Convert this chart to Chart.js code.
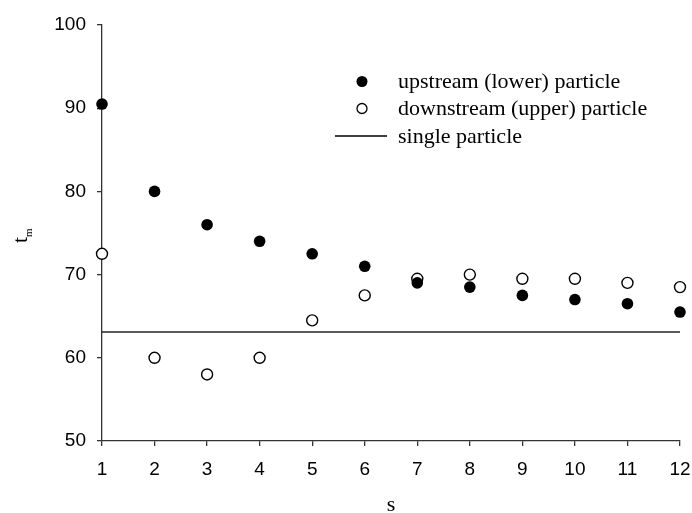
<!DOCTYPE html>
<html>
<head>
<meta charset="utf-8">
<script src="https://cdn.jsdelivr.net/npm/chart.js@4"></script>
<style>
html,body{margin:0;padding:0;background:#fff;}
#wrap{width:692px;height:513px;position:relative;}
</style>
</head>
<body>
<div id="wrap"><canvas id="c" width="692" height="513"></canvas></div>
<script>
const sValues = [1,2,3,4,5,6,7,8,9,10,11,12];
const upstream = [90.5,80,76,74,72.5,71,69,68.5,67.5,67,66.5,65.5];
const downstream = [72.5,60,58,60,64.5,67.5,69.5,70,69.5,69.5,69,68.5];
const singleParticle = 63.1;
const xTicks = [1,2,3,4,5,6,7,8,9,10,11,12];
const yTicks = [50,60,70,80,90,100];
const legendLabels = ['upstream (lower) particle','downstream (upper) particle','single particle'];

const upData = sValues.map((s,i)=>({x:s,y:upstream[i]}));
const downData = sValues.map((s,i)=>({x:s,y:downstream[i]}));
const singleData = [{x:sValues[0],y:singleParticle},{x:sValues[sValues.length-1],y:singleParticle}];

const overlay = {
  id:'overlay',
  afterDraw(chart){
    const ctx = chart.ctx;
    ctx.save();
    ctx.fillStyle = '#000';
    ctx.strokeStyle = '#000';
    ctx.font = '22px "Liberation Serif", "Times New Roman", serif';
    ctx.textBaseline = 'middle';
    ctx.textAlign = 'left';
    const rows = [81.5,108.5,136];
    ctx.beginPath(); ctx.arc(362,rows[0],5.5,0,Math.PI*2); ctx.fill();
    ctx.beginPath(); ctx.arc(362,rows[1],5,0,Math.PI*2); ctx.lineWidth=1.3; ctx.stroke();
    ctx.beginPath(); ctx.moveTo(335,rows[2]); ctx.lineTo(387,rows[2]); ctx.lineWidth=1.5; ctx.stroke();
    legendLabels.forEach((t,i)=>ctx.fillText(t,398,rows[i]+1));
    ctx.textAlign='center';
    ctx.textBaseline='alphabetic';
    ctx.font = '22px "Liberation Serif", "Times New Roman", serif';
    ctx.fillText('s',391,511);
    ctx.translate(27,243);
    ctx.rotate(-Math.PI/2);
    ctx.textAlign='left';
    ctx.font = '22px "Liberation Serif", "Times New Roman", serif';
    ctx.fillText('t',0,0);
    const tw = ctx.measureText('t').width;
    ctx.font = '11px "Liberation Serif", "Times New Roman", serif';
    ctx.fillText('m',tw,5);
    ctx.restore();
  }
};

new Chart(document.getElementById('c'),{
  type:'scatter',
  data:{
    datasets:[
      {label:legendLabels[2],type:'line',data:singleData,borderColor:'#222',borderWidth:1.5,pointRadius:0,fill:false,order:3,clip:false},
      {label:legendLabels[1],data:downData,pointRadius:5.5,pointHoverRadius:5.5,pointBackgroundColor:'#fff',pointBorderColor:'#000',pointBorderWidth:1.4,order:2,clip:false},
      {label:legendLabels[0],data:upData,pointRadius:5.8,pointHoverRadius:5.8,pointBackgroundColor:'#000',pointBorderColor:'#000',pointBorderWidth:0,order:1,clip:false}
    ]
  },
  options:{
    responsive:false,
    animation:false,
    events:[],
    layout:{padding:{left:0,top:25,right:12,bottom:0}},
    plugins:{legend:{display:false},tooltip:{enabled:false}},
    scales:{
      x:{
        type:'linear',min:1,max:12,
        afterBuildTicks(s){s.ticks = xTicks.map(v=>({value:v}));},
        afterFit(s){s.height = 72; s.paddingLeft = 0; s.paddingRight = 0;},
        ticks:{color:'#000',font:{family:'"Liberation Sans", Arial, sans-serif',size:19},padding:12,maxRotation:0,autoSkip:false},
        grid:{display:true,drawOnChartArea:false,drawTicks:true,tickLength:5,color:'#333',lineWidth:1.3},
        border:{display:true,color:'#333',width:1.3}
      },
      y:{
        type:'linear',min:50,max:100,
        afterBuildTicks(s){s.ticks = yTicks.map(v=>({value:v}));},
        afterFit(s){s.width = 102; s.paddingTop = 0; s.paddingBottom = 0;},
        ticks:{color:'#000',font:{family:'"Liberation Sans", Arial, sans-serif',size:19},padding:11,autoSkip:false},
        grid:{display:true,drawOnChartArea:false,drawTicks:true,tickLength:5,color:'#333',lineWidth:1.3},
        border:{display:true,color:'#333',width:1.3}
      }
    }
  },
  plugins:[overlay]
});
</script>
</body>
</html>
